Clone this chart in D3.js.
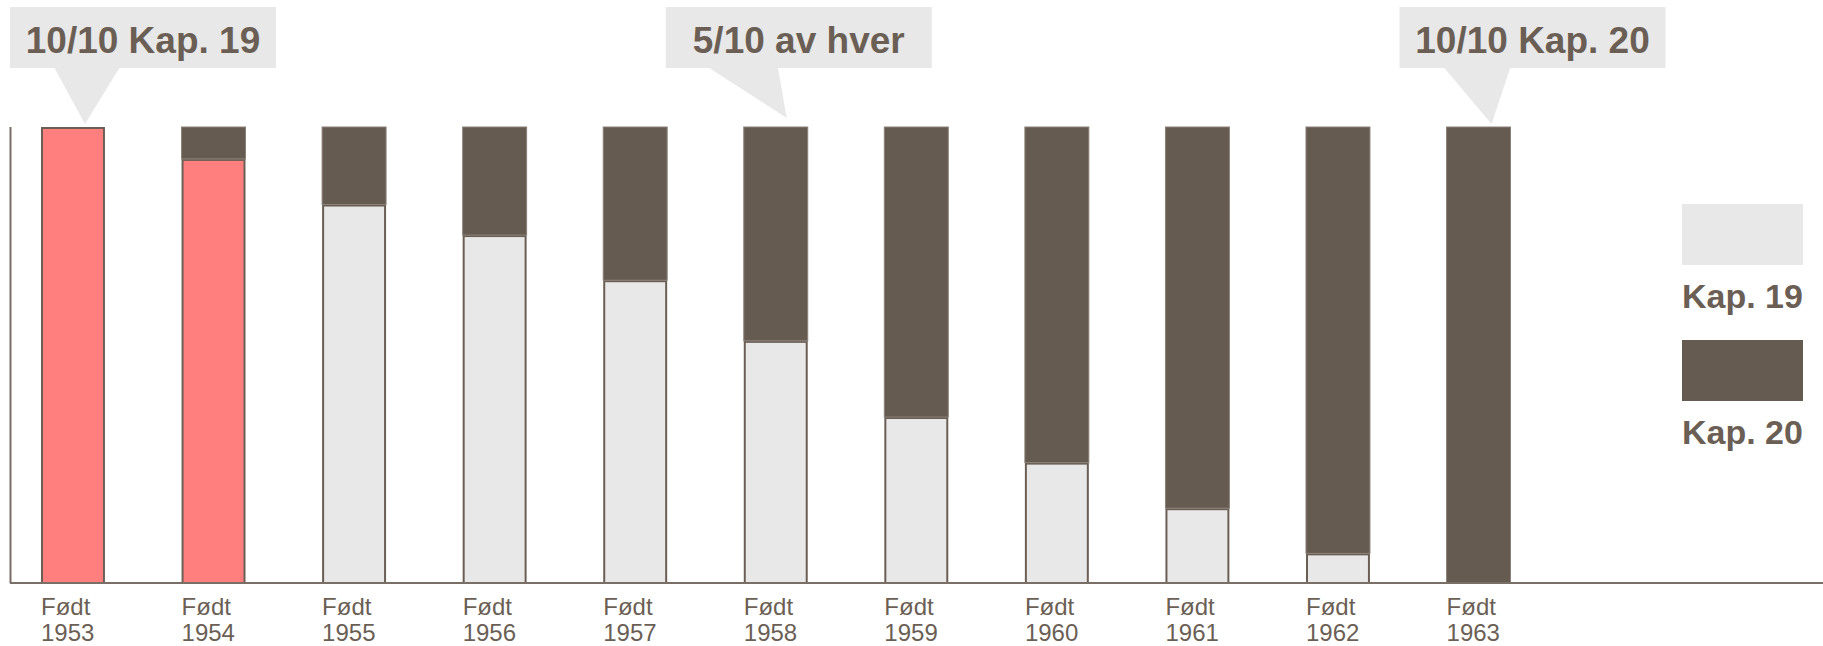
<!DOCTYPE html>
<html>
<head>
<meta charset="utf-8">
<script src="https://cdn.jsdelivr.net/npm/d3@7"></script>
<style>
  body { margin: 0; background: #fff; }
  svg { display: block; font-family: "Liberation Sans", Arial, sans-serif; }
</style>
</head>
<body>
<div id="chart"></div>
<script>
// data
const years = [1953, 1954, 1955, 1956, 1957, 1958, 1959, 1960, 1961, 1962, 1963];
const kap19 = [100, 93, 83, 76.3, 66.4, 53.1, 36.4, 26.4, 16.4, 6.5, 0];
const kap20 = [0, 7, 17, 23.7, 33.6, 46.9, 63.6, 73.6, 83.6, 93.5, 100];
const highlightYears = [1953, 1954];
const labelPrefix = "Født";
const legendLabels = ["Kap. 19", "Kap. 20"];
const calloutYears = [1953, 1958, 1963];
const calloutTexts = ["10/10 Kap. 19", "5/10 av hver", "10/10 Kap. 20"];

const width = 1823;
const height = 646;
const textColor = "#6b5f55";
const darkColor = "#665b51";
const lightColor = "#e8e8e8";
const pinkColor = "#ff7f7f";

const svg = d3.select("#chart").append("svg").attr("width", width).attr("height", height);

const x = d3.scaleBand().domain(years).range([10.5, 1541]).paddingInner(0.545).paddingOuter(0.217);
const y = d3.scaleLinear().domain([0, 100]).range([583, 127]);

const rows = years.map((yr, i) => ({ year: yr, kap19: kap19[i], kap20: kap20[i] }));
const series = d3.stack().keys(["kap19", "kap20"])(rows);

// bars
const layers = svg.selectAll("g.layer")
  .data(series)
  .enter()
  .append("g")
  .attr("class", "layer");

layers.selectAll("rect")
  .data((s) => s.map((d) => ({ key: s.key, d: d })))
  .enter()
  .filter((p) => p.d[1] - p.d[0] > 0)
  .append("rect")
  .attr("x", (p) => x(p.d.data.year) + (p.key == "kap19" ? 1 : 0))
  .attr("width", (p) => x.bandwidth() - (p.key == "kap19" ? 2 : 0))
  .attr("y", (p) => y(p.d[1]) + (p.key == "kap19" ? 1 : 0))
  .attr("height", (p) => y(p.d[0]) - y(p.d[1]) - (p.key == "kap19" ? 1 : 0))
  .attr("fill", (p) => fillColor(p))
  .attr("stroke", (p) => (p.key == "kap19" ? "#6b5f55" : "#8a8078"))
  .attr("stroke-width", (p) => (p.key == "kap19" ? 2 : 1));

function fillColor(p) {
  if (p.key == "kap20") {
    return darkColor;
  }
  if (highlightYears.includes(p.d.data.year)) {
    return pinkColor;
  }
  return lightColor;
}

// axes
svg.append("line")
  .attr("x1", 10.5).attr("x2", 10.5)
  .attr("y1", y(100)).attr("y2", y(0))
  .attr("stroke", "#7a6f66").attr("stroke-width", 2);

svg.append("line")
  .attr("x1", 10).attr("x2", width)
  .attr("y1", y(0)).attr("y2", y(0))
  .attr("stroke", "#7a6f66").attr("stroke-width", 2);

const xAxis = svg.append("g")
  .attr("transform", `translate(0,${y(0)})`)
  .call(d3.axisBottom(x).tickSize(0).tickFormat(""));
xAxis.select(".domain").remove();

xAxis.selectAll(".tick").each(function (yr) {
  const t = d3.select(this).append("text")
    .attr("fill", textColor)
    .attr("font-size", 24)
    .attr("text-anchor", "start");
  t.append("tspan").attr("x", -x.bandwidth() / 2).attr("y", 32).text(labelPrefix);
  t.append("tspan").attr("x", -x.bandwidth() / 2).attr("y", 58).text(yr);
});

// callouts
const boxWidth = 266;
const boxTop = 7;
const boxHeight = 61;
const boxShift = [70, 23, 54];
const baseOffsets = [[-19, 47], [-68, 2], [-35, 32]];
const tipOffsets = [[12, -3], [11, -9], [13, -3]];

calloutYears.forEach((yr, i) => {
  const cx = x(yr) + x.bandwidth() / 2;
  const bx = cx + boxShift[i];
  const g = svg.append("g");
  g.append("path")
    .attr("d", `M${cx + baseOffsets[i][0]},${boxTop + boxHeight - 1}` +
      `L${cx + tipOffsets[i][0]},${y(100) + tipOffsets[i][1]}` +
      `L${cx + baseOffsets[i][1]},${boxTop + boxHeight - 1}Z`)
    .attr("fill", lightColor);
  g.append("rect")
    .attr("x", bx - boxWidth / 2)
    .attr("y", boxTop)
    .attr("width", boxWidth)
    .attr("height", boxHeight)
    .attr("fill", lightColor);
  g.append("text")
    .attr("x", bx)
    .attr("y", boxTop + 46)
    .attr("text-anchor", "middle")
    .attr("font-size", 37)
    .attr("font-weight", "bold")
    .attr("fill", textColor)
    .text(calloutTexts[i]);
});

// legend
const legend = svg.append("g").attr("transform", "translate(1682,204)");
legendLabels.forEach((label, i) => {
  legend.append("rect")
    .attr("x", 0)
    .attr("y", i * 136)
    .attr("width", 121)
    .attr("height", 61)
    .attr("fill", i == 0 ? lightColor : darkColor);
  legend.append("text")
    .attr("x", 0)
    .attr("y", i * 136 + 104)
    .attr("font-size", 34)
    .attr("font-weight", "bold")
    .attr("fill", textColor)
    .text(label);
});
</script>
</body>
</html>
